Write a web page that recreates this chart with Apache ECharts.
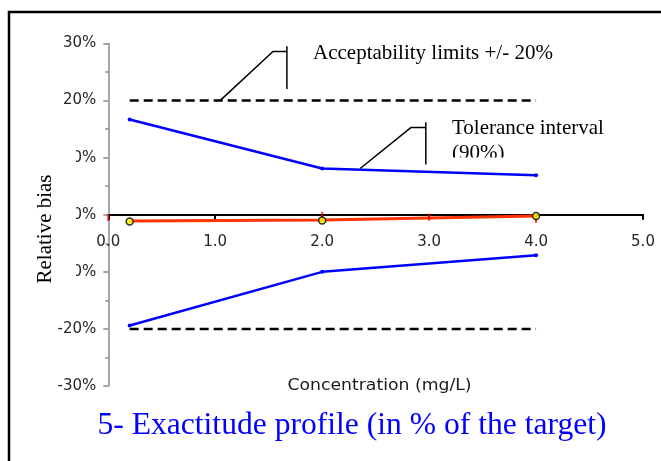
<!DOCTYPE html>
<html><head><meta charset="utf-8">
<script src="https://cdn.jsdelivr.net/npm/echarts@6/dist/echarts.min.js"></script>
<style>html,body{margin:0;padding:0;background:#fff}#c{width:661px;height:461px}</style>
</head><body><div id="c"></div>
<script>
// Data
const xTicks = [0, 1, 2, 3, 4, 5];
const yTicks = [-30, -20, -10, 0, 10, 20, 30];
const conc = [0.2, 2.0, 4.0];
const upperTol = [16.7, 8.1, 6.9];
const lowerTol = [-19.4, -10.0, -7.1];
const meanBias = [-1.1, -0.9, -0.2];
const meanPts = [-1.2, -1.0, -0.2];
const limitX = [0.2, 4.0];
const upperLimit = [20, 20];
const lowerLimit = [-20, -20];
const redTickX = [0, 2, 3, 4];
const redTickY = [-0.5, -0.1, -0.4, -0.8];
const calloutAccX = [1.045, 1.54, 1.67];
const calloutAccY = [20, 28.6, 28.6];
const calloutAccVX = [1.67, 1.67];
const calloutAccVY = [29.5, 22.05];
const calloutTolX = [2.355, 2.832, 2.969];
const calloutTolY = [8.1, 15.3, 15.3];
const calloutTolVX = [2.969, 2.969];
const calloutTolVY = [16.2, 8.8];

const zip = (a, b) => a.map((v, i) => [v, b[i]]);
const yMin = yTicks[0], yMax = yTicks[yTicks.length - 1];
const gridTop = 43.5, gridBottom = 75, H = 461;
const gridH = H - gridTop - gridBottom;
const xAxisOffset = -gridH * (0 - yMin) / (yMax - yMin);

const chart = echarts.init(document.getElementById('c'), null, {renderer: 'canvas'});
const blackThin = {color: '#000', width: 1.5};
chart.setOption({
  animation: false,
  grid: {left: 108.3, right: 18, top: gridTop, bottom: gridBottom},
  xAxis: {
    type: 'value', min: xTicks[0], max: xTicks[xTicks.length - 1], interval: 1,
    offset: xAxisOffset,
    axisLine: {onZero: false, lineStyle: {color: '#000', width: 2}},
    axisTick: {show: true, length: 5, lineStyle: {color: '#000', width: 2}},
    axisLabel: {formatter: v => v.toFixed(1), fontFamily: 'DejaVu Sans', fontSize: 15, color: '#262626', margin: 20},
    splitLine: {show: false}
  },
  yAxis: {
    type: 'value', min: yMin, max: yMax, interval: 10,
    axisLine: {onZero: false, lineStyle: {color: '#888', width: 1.5}},
    axisTick: {show: true, length: 5, lineStyle: {color: '#888', width: 1.5}},
    minorTick: {show: true, splitNumber: 2, length: 3, lineStyle: {color: '#888', width: 1.5}},
    axisLabel: {formatter: '{value}%', fontFamily: 'DejaVu Sans', fontSize: 15, color: '#262626', margin: 12},
    splitLine: {show: false}
  },
  series: [
    {type: 'line', data: zip(limitX, upperLimit), symbol: 'none', lineStyle: {color: '#000', width: 2.5, type: [9, 5]}},
    {type: 'line', data: zip(limitX, lowerLimit), symbol: 'none', lineStyle: {color: '#000', width: 2.5, type: [9, 5]}},
    {type: 'line', data: zip(conc, upperTol), symbol: 'circle', symbolSize: 4, itemStyle: {color: '#0000ff'}, lineStyle: {color: '#0000ff', width: 2.5}},
    {type: 'line', data: zip(conc, lowerTol), symbol: 'circle', symbolSize: 4, itemStyle: {color: '#0000ff'}, lineStyle: {color: '#0000ff', width: 2.5}},
    {type: 'line', data: zip(conc, meanBias), symbol: 'none', lineStyle: {color: '#ff3300', width: 3}, z: 3},
    {type: 'scatter', data: zip(redTickX, redTickY), symbol: 'rect', symbolSize: [2, 7], itemStyle: {color: '#ff0000'}, z: 4},
    {type: 'scatter', data: zip(conc, meanPts), symbol: 'circle', symbolSize: 7, itemStyle: {color: '#ffff00', borderColor: '#000', borderWidth: 1.5}, z: 5},
    {type: 'line', data: zip(calloutAccX, calloutAccY), symbol: 'none', lineStyle: blackThin},
    {type: 'line', data: zip(calloutAccVX, calloutAccVY), symbol: 'none', lineStyle: blackThin},
    {type: 'line', data: zip(calloutTolX, calloutTolY), symbol: 'none', lineStyle: blackThin},
    {type: 'line', data: zip(calloutTolVX, calloutTolVY), symbol: 'none', lineStyle: blackThin}
  ],
  graphic: [
    {type: 'rect', z: 100, shape: {x: 9, y: 12, width: 700, height: 500}, style: {fill: 'none', stroke: '#000', lineWidth: 2.5}},
    {type: 'rect', z: 100, shape: {x: 20, y: 142, width: 56, height: 150}, style: {fill: '#fff'}},
    {type: 'text', z: 101, x: 45, y: 229, rotation: Math.PI / 2,
      style: {text: 'Relative bias', font: '21px "Liberation Serif"', fill: '#000', align: 'center', verticalAlign: 'middle'}},
    {type: 'text', z: 101, x: 313, y: 53,
      style: {text: 'Acceptability limits +/- 20%', font: '21px "Liberation Serif"', fill: '#000', align: 'left', verticalAlign: 'middle'}},
    {type: 'text', z: 101, x: 452, y: 128,
      style: {text: 'Tolerance interval', font: '21px "Liberation Serif"', fill: '#000', align: 'left', verticalAlign: 'middle'}},
    {type: 'text', z: 101, x: 452, y: 153,
      style: {text: '(90%)', font: '21px "Liberation Serif"', fill: '#000', align: 'left', verticalAlign: 'middle'}},
    {type: 'rect', z: 102, shape: {x: 445, y: 157.5, width: 80, height: 8}, style: {fill: '#fff'}},
    {type: 'text', z: 101, x: 379.5, y: 386, scaleX: 1.15,
      style: {text: 'Concentration (mg/L)', font: '15px "DejaVu Sans"', fill: '#1a1a1a', align: 'center', verticalAlign: 'middle'}},
    {type: 'text', z: 101, x: 352, y: 426,
      style: {text: '5- Exactitude profile (in % of the target)', font: '31.6px "Liberation Serif"', fill: '#0000ff', align: 'center', verticalAlign: 'middle'}}
  ]
});
</script></body></html>
